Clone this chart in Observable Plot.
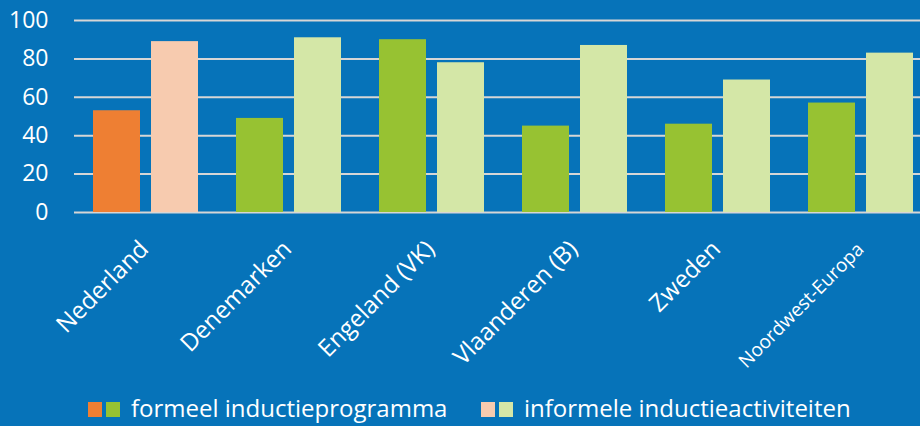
<!DOCTYPE html>
<html><head><meta charset="utf-8">
<script src="https://cdn.jsdelivr.net/npm/d3@7"></script>
<script src="https://cdn.jsdelivr.net/npm/@observablehq/plot@0.6"></script>
<style>
html,body{margin:0;padding:0;background:#0673b9;}
body{width:920px;height:426px;overflow:hidden;position:relative;font-family:"Open Sans",sans-serif;color:#fff;}
#chart svg{display:block;}
.sw{position:absolute;width:14px;height:15px;}
.lt{position:absolute;font-size:24px;line-height:30px;white-space:nowrap;}
</style></head><body><div id="chart"></div><div id="legend"></div>
<script>
const countries = ["Nederland","Denemarken","Engeland (VK)","Vlaanderen (B)","Zweden","Noordwest-Europa"];
const formeel = [53,49,90,45,46,57];
const informeel = [89,91,78,87,69,83];
const yTicks = [0,20,40,60,80,100];
const seriesKeys = ["formeel","informeel"];
const seriesNames = ["formeel inductieprogramma","informele inductieactiviteiten"];
const colorKeys = ["nl-formeel","nl-informeel","ov-formeel","ov-informeel"];
const colorValues = ["#ee7f33","#f7cbaf","#97c232","#d4e7a7"];

const rows = [];
countries.forEach((c,i) => {
  const grp = c === "Nederland" ? "nl" : "ov";
  rows.push({country:c, series:"formeel", value:formeel[i], key:grp+"-formeel"});
  rows.push({country:c, series:"informeel", value:informeel[i], key:grp+"-informeel"});
});

const chart = Plot.plot({
  width: 920, height: 390,
  marginLeft: 74, marginRight: -12, marginTop: 20, marginBottom: 178,
  style: {background: "transparent", fontFamily: "Open Sans", fontSize: "23px", color: "#fff"},
  facet: {data: rows, x: "country"},
  fx: {domain: countries, padding: 0, axis: null, label: null},
  x: {domain: seriesKeys, paddingInner: 11/59, paddingOuter: 18/59, axis: null},
  y: {domain: [0,100], ticks: yTicks, tickSize: 0, tickPadding: 26, label: null},
  color: {domain: colorKeys, range: colorValues},
  marks: [
    Plot.ruleY(yTicks, {stroke: "#d6d6d6", strokeWidth: 2}),
    Plot.barY(rows, {x: "series", y: "value", fill: "key"}),
    Plot.text(rows, {filter: d => d.series === "formeel", text: "country", frameAnchor: "bottom",
      rotate: -45, textAnchor: "end", dx: 4, dy: 38, fill: "#fff",
      fontSize: d => d.country === "Noordwest-Europa" ? 19 : 24})
  ]
});
document.getElementById("chart").appendChild(chart);

const legend = document.getElementById("legend");
const legendItems = [
  {x: 88, colors: [colorValues[0], colorValues[2]], label: seriesNames[0]},
  {x: 481, colors: [colorValues[1], colorValues[3]], label: seriesNames[1]}
];
legendItems.forEach(it => {
  it.colors.forEach((c,j) => {
    const s = document.createElement("div");
    s.className = "sw";
    s.style.left = (it.x + j*18) + "px";
    s.style.top = "402px";
    s.style.background = c;
    legend.appendChild(s);
  });
  const t = document.createElement("div");
  t.className = "lt";
  t.style.left = (it.x + 43) + "px";
  t.style.top = "393px";
  t.textContent = it.label;
  legend.appendChild(t);
});
</script></body></html>
